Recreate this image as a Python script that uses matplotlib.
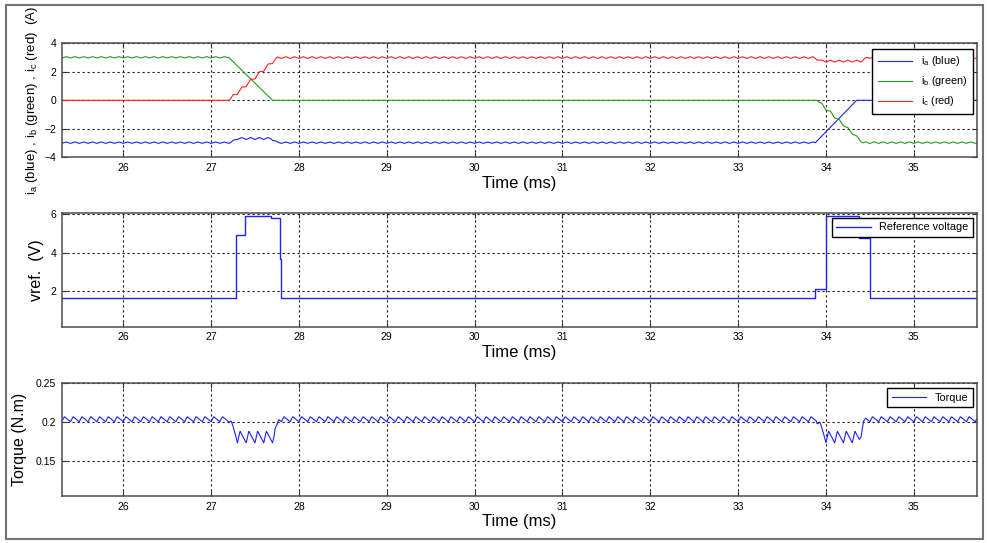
import numpy as np
import matplotlib
matplotlib.use("Agg")
import matplotlib.pyplot as plt
from matplotlib.patches import Rectangle

plt.rcParams['font.family'] = ['Liberation Sans', 'DejaVu Sans']
plt.rcParams['mathtext.fontset'] = 'custom'
plt.rcParams['mathtext.rm'] = 'Liberation Sans'
plt.rcParams['mathtext.it'] = 'Liberation Sans:italic'
plt.rcParams['mathtext.default'] = 'regular'

# time window (ms) and PWM ripple period
T_START, T_END = 25.3, 35.72
PWM_PERIOD = 0.1

# phase currents: breakpoint times (ms), mean level (A), ripple half-amplitude (A)
ia_t   = [25.3, 27.22, 27.3, 27.68, 27.76, 33.87, 33.88, 34.35, 35.72]
ia_v   = [-2.97, -2.97, -2.68, -2.68, -2.97, -2.97, -2.97, 0.0, 0.0]
ia_rip = [0.05, 0.05, 0.07, 0.07, 0.05, 0.05, 0.0, 0.0, 0.0]

ib_t   = [25.3, 27.19, 27.2, 27.7, 33.9, 33.95, 34.42, 35.72]
ib_v   = [3.02, 3.02, 3.02, 0.0, 0.0, -0.29, -2.97, -2.97]
ib_rip = [0.05, 0.05, 0.0, 0.0, 0.0, 0.12, 0.06, 0.05]

ic_t   = [25.3, 27.2, 27.25, 27.7, 27.76, 33.86, 33.95, 34.4, 34.47, 35.72]
ic_v   = [0.0, 0.0, 0.27, 2.7, 3.0, 3.0, 2.75, 2.75, 3.0, 3.0]
ic_rip = [0.0, 0.0, 0.12, 0.12, 0.06, 0.06, 0.07, 0.07, 0.06, 0.06]

# reference voltage steps (V), held from each time until the next
vref_t = [25.3, 27.28, 27.285, 27.39, 27.68, 27.78, 27.795, 33.88, 34.0, 34.38, 34.5, 35.72]
vref_v = [1.65, 3.3, 4.95, 5.92, 5.8, 3.7, 1.65, 2.1, 5.92, 4.75, 1.65, 1.65]

# torque: breakpoints (ms), ripple trough and ripple peak (N.m)
tq_t  = [25.3, 27.2, 27.3, 27.72, 27.77, 33.89, 34.0, 34.38, 34.45, 35.72]
tq_lo = [0.200, 0.200, 0.173, 0.173, 0.200, 0.200, 0.173, 0.173, 0.200, 0.200]
tq_hi = [0.2065, 0.2065, 0.188, 0.188, 0.2065, 0.2065, 0.188, 0.188, 0.2065, 0.2065]

# one ripple period, as seen on the traces
cur_tooth_ph = [0.0, 0.5, 1.0]
cur_tooth_v  = [-1.0, 1.0, -1.0]
tq_tooth_ph  = [0.0, 0.3, 1.0]
tq_tooth_v   = [0.0, 1.0, 0.0]

x_ticks = [26, 27, 28, 29, 30, 31, 32, 33, 34, 35]


t = np.arange(T_START, T_END, 0.004)
ph = ((t - T_START) / PWM_PERIOD) % 1.0
cur_tooth = np.interp(ph, cur_tooth_ph, cur_tooth_v)
tq_tooth = np.interp(ph, tq_tooth_ph, tq_tooth_v)

ia = np.interp(t, ia_t, ia_v) + np.interp(t, ia_t, ia_rip) * cur_tooth
ib = np.interp(t, ib_t, ib_v) + np.interp(t, ib_t, ib_rip) * cur_tooth
ic = np.interp(t, ic_t, ic_v) + np.interp(t, ic_t, ic_rip) * cur_tooth
lo = np.interp(t, tq_t, tq_lo)
hi = np.interp(t, tq_t, tq_hi)
torque = lo + (hi - lo) * tq_tooth


def style_axes(ax):
    ax.set_xlim(T_START, T_END)
    ax.set_xticks(x_ticks)
    ax.grid(True, color='0.1', linestyle=(0, (2, 2.5)), linewidth=0.8)
    ax.tick_params(direction='in', top=True, right=True, length=3.5,
                   labelsize=7.5, color='0.2', pad=4)
    for s in ax.spines.values():
        s.set_color('0.3')
        s.set_linewidth(1.1)
    ax.set_xlabel('Time (ms)', fontsize=12)
    ax.xaxis.set_label_coords(0.5, -0.16)


fig = plt.figure(figsize=(9.89, 5.43), dpi=100)

# outer frame
fig.patches.append(Rectangle((6 / 989, 4 / 543), 977 / 989, 534 / 543,
                             transform=fig.transFigure, fill=False,
                             edgecolor='0.45', linewidth=1.5))

ax1 = fig.add_axes([0.0624, 0.7103, 0.9255, 0.2099])
ax2 = fig.add_axes([0.0624, 0.3984, 0.9255, 0.2085])
ax3 = fig.add_axes([0.0624, 0.0866, 0.9255, 0.2087])

# currents
ax1.plot(t, ia, color='#2020ff', linewidth=0.8, label='i$_a$ (blue)')
ax1.plot(t, ib, color='#20a020', linewidth=0.8, label='i$_b$ (green)')
ax1.plot(t, ic, color='#ff2020', linewidth=0.8, label='i$_c$ (red)')
style_axes(ax1)
ax1.set_ylim(-4, 4)
ax1.set_yticks([-4, -2, 0, 2, 4])
ax1.set_ylabel('i$_a$ (blue) , i$_b$ (green) , i$_c$ (red)  (A)', fontsize=9.5)
ax1.yaxis.set_label_coords(-0.024, 0.5)
ax1.legend(loc='upper right', bbox_to_anchor=(0.9956, 0.95), fontsize=7.8,
           handlelength=3.2, fancybox=False, edgecolor='black', framealpha=1,
           borderpad=0.5, labelspacing=0.55, borderaxespad=0)

# reference voltage
ax2.plot(vref_t, vref_v, color='#2020ff', linewidth=1.0, drawstyle='steps-post',
         label='Reference voltage')
style_axes(ax2)
ax2.set_ylim(0.15, 6.05)
ax2.set_yticks([2, 4, 6])
ax2.set_ylabel('vref.  (V)', fontsize=11.5)
ax2.yaxis.set_label_coords(-0.019, 0.5)
ax2.legend(loc='upper right', bbox_to_anchor=(0.9956, 0.96), fontsize=7.8,
           handlelength=3.2, fancybox=False, edgecolor='black', framealpha=1,
           borderpad=0.4, borderaxespad=0)

# torque
ax3.plot(t, torque, color='#2020ff', linewidth=0.8, label='Torque')
style_axes(ax3)
ax3.set_ylim(0.105, 0.25)
ax3.set_yticks([0.15, 0.2, 0.25])
ax3.set_yticklabels(['0.15', '0.2', '0.25'])
ax3.set_ylabel('Torque (N.m)', fontsize=11.5)
ax3.yaxis.set_label_coords(-0.038, 0.5)
ax3.legend(loc='upper right', bbox_to_anchor=(0.9956, 0.95), fontsize=7.8,
           handlelength=3.2, fancybox=False, edgecolor='black', framealpha=1,
           borderpad=0.4, borderaxespad=0)

fig.savefig('out.png', dpi=100)
